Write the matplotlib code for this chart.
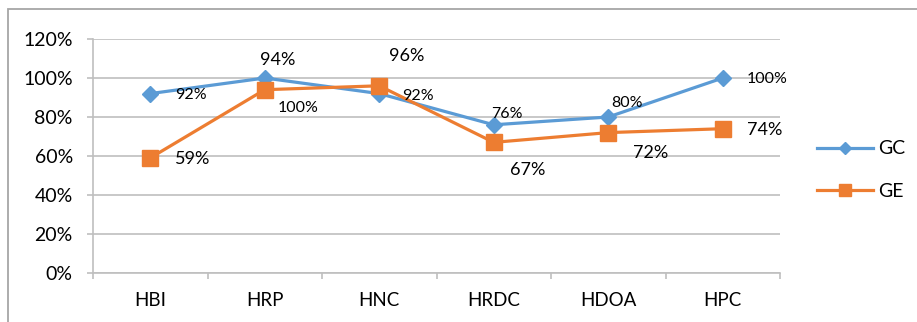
import matplotlib
matplotlib.use("Agg")
import matplotlib.pyplot as plt
from matplotlib.patches import Rectangle
from matplotlib.ticker import FixedLocator

plt.rcParams['font.family'] = ['Lato', 'DejaVu Sans']

# Data
categories = ['HBI', 'HRP', 'HNC', 'HRDC', 'HDOA', 'HPC']
gc_values = [92, 100, 92, 76, 80, 100]
ge_values = [59, 94, 96, 67, 72, 74]
y_ticks = [0, 20, 40, 60, 80, 100, 120]

# label offsets in pixels (dx, dy) from each point
gc_offsets = [(25, -1), (13, -30), (23, -2), (-3, 11), (3, 14), (24, -1)]
ge_offsets = [(25, -1), (-5, 30), (10, 30), (16, -28), (25, -20), (24, -1)]

blue = '#5B9BD5'
orange = '#ED7D31'
grid_gray = '#BFBFBF'

W, H = 917, 322
fig = plt.figure(figsize=(W / 100, H / 100), dpi=100)
ax = fig.add_axes([93 / W, 1 - 273 / H, (780 - 93) / W, (273 - 39) / H])

x = list(range(len(categories)))
ax.plot(x, gc_values, color=blue, lw=2.3, marker='D', ms=8.5, label='GC', zorder=3)
ax.plot(x, ge_values, color=orange, lw=2.3, marker='s', ms=11.5, label='GE', zorder=3)

for i, v in enumerate(gc_values):
    dx, dy = gc_offsets[i]
    ax.annotate(f'{v}%', (i, v), xytext=(dx, dy), textcoords='offset pixels',
                ha='left', va='center', fontsize=11.5, color='black', zorder=4)
for i, v in enumerate(ge_values):
    dx, dy = ge_offsets[i]
    ax.annotate(f'{v}%', (i, v), xytext=(dx, dy), textcoords='offset pixels',
                ha='left', va='center', fontsize=13, color='black', zorder=4)

ax.set_xlim(-0.5, len(categories) - 0.5)
ax.set_ylim(0, 120)
ax.set_yticks(y_ticks)
ax.set_yticklabels([f'{t}%' for t in y_ticks], fontsize=14)
ax.set_xticks(x)
ax.set_xticklabels(categories, fontsize=13.5)
ax.xaxis.set_minor_locator(FixedLocator([i - 0.5 for i in range(len(categories) + 1)]))

ax.grid(axis='y', color=grid_gray, lw=1.2, zorder=0)
ax.tick_params(axis='y', which='major', length=4.5, width=1.2, color=grid_gray, pad=10)
ax.tick_params(axis='x', which='major', length=0, pad=14)
ax.tick_params(axis='x', which='minor', length=4.5, width=1.2, color=grid_gray)

for side in ['top', 'right']:
    ax.spines[side].set_visible(False)
for side in ['left', 'bottom']:
    ax.spines[side].set_color(grid_gray)
    ax.spines[side].set_linewidth(1.2)

leg = fig.legend(loc='center left', bbox_to_anchor=(817 / W, 1 - 170 / H),
                 frameon=False, fontsize=14, handlelength=2.9, handletextpad=0.25,
                 labelspacing=1.3, markerscale=0.7, borderpad=0, borderaxespad=0)

# outer chart border
fig.patches.append(Rectangle((8 / W, -0.1), 1.2, 1 - 9 / H + 0.1,
                             transform=fig.transFigure, fill=False,
                             edgecolor='#A6A6A6', lw=1.3))

fig.savefig('out.png', dpi=100)
